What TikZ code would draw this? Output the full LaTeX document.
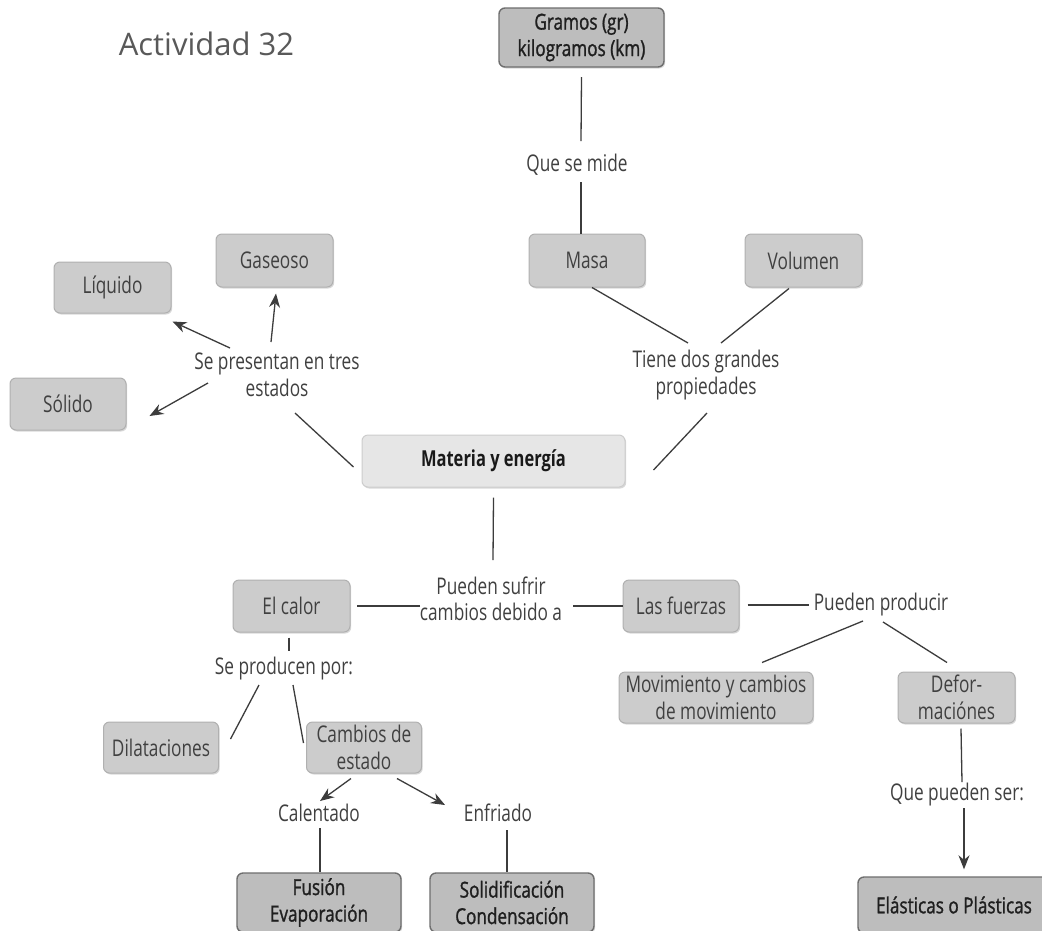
\documentclass[tikz,border=0pt]{standalone}
\usepackage{fontspec}
\setmainfont{Open Sans}[FakeStretch=0.75]
\newfontfamily\titlefont{Open Sans}
\newfontfamily\heavyfont{Open Sans}[FakeStretch=0.78,FakeBold=1.2]
\usetikzlibrary{arrows.meta,calc,shadows}
\definecolor{boxfill}{HTML}{CCCCCC}
\definecolor{boxedge}{HTML}{B0B0B0}
\definecolor{darkfill}{HTML}{BDBDBD}
\definecolor{darkedge}{HTML}{6E6E6E}
\definecolor{litefill}{HTML}{E6E6E6}
\definecolor{liteedge}{HTML}{CDCDCD}
\definecolor{txt}{HTML}{404040}
\definecolor{ln}{HTML}{3C3C3C}
\begin{document}
\begin{tikzpicture}[x=1pt,y=-1pt,
  lbl/.style={text=txt, align=center, font=\fontsize{23}{26.5}\selectfont, inner sep=0pt},
  box/.style={draw=boxedge, fill=boxfill, rounded corners=6pt, line width=1pt, align=center,
    text=txt, font=\fontsize{23}{26.5}\selectfont, inner sep=0pt,
    drop shadow={shadow xshift=1.2pt, shadow yshift=-1.5pt, opacity=0.3}},
  dbox/.style={box, fill=darkfill, draw=darkedge, line width=1.4pt, text=black!88,
    font=\heavyfont\fontsize{22}{26.5}\selectfont},
  lbox/.style={box, fill=litefill, draw=liteedge, text=black!90, font=\fontsize{22}{26.5}\selectfont\bfseries},
  conn/.style={draw=ln, line width=1.3pt},
  arr/.style={conn, -{Stealth[length=14pt,width=11pt]}}
]
\clip (0,0) rectangle (1042,930);
\fill[white] (0,0) rectangle (1042,930);

% title
\node[anchor=base, text=black!65, font=\titlefont\fontsize{31}{36}\selectfont, inner sep=0pt] (title) at (206.5,55) {Actividad 32};

% boxes
\node[dbox, minimum width=165pt, minimum height=59pt] (gramos) at (581.5,37.5) {Gramos (gr)\\kilogramos (km)};
\node[box, minimum width=116pt, minimum height=53pt] (masa) at (587,260.5) {Masa};
\node[box, minimum width=117pt, minimum height=53pt] (volumen) at (803.5,260.5) {Volumen};
\node[lbox, minimum width=263pt, minimum height=52pt] (materia) at (493.5,461) {Materia y energía};
\node[box, minimum width=117pt, minimum height=53pt] (gaseoso) at (274.5,260.5) {Gaseoso};
\node[box, minimum width=117pt, minimum height=51pt] (liquido) at (112.5,287.5) {Líquido};
\node[box, minimum width=116pt, minimum height=52pt] (solido) at (68,404) {Sólido};
\node[box, minimum width=117pt, minimum height=52pt] (calor) at (291.5,606) {El calor};
\node[box, minimum width=116pt, minimum height=52pt] (fuerzas) at (681,606) {Las fuerzas};
\node[box, minimum width=194pt, minimum height=51pt] (movimiento) at (716,697.5) {Movimiento y cambios\\de movimiento};
\node[box, minimum width=117pt, minimum height=51pt] (defor) at (956.5,697.5) {Defor-\\maciónes};
\node[dbox, minimum width=192pt, minimum height=56pt] (elasticas) at (954,905) {Elásticas o Plásticas};
\node[box, minimum width=115pt, minimum height=51pt] (dilataciones) at (161,747.5) {Dilataciones};
\node[box, minimum width=115pt, minimum height=51pt] (cambios) at (364,747.5) {Cambios de\\estado};
\node[dbox, minimum width=164pt, minimum height=59pt] (fusion) at (319,902.5) {Fusión\\Evaporación};
\node[dbox, minimum width=164pt, minimum height=59pt] (solidif) at (512,902.5) {Solidificación\\Condensación};

% labels
\node[lbl] (qsm) at (577,165) {Que se mide};
\node[lbl] (tiene) at (706,375) {Tiene dos grandes\\propiedades};
\node[lbl] (sepres) at (277,375) {Se presentan en tres\\estados};
\node[lbl] (pueden) at (491,599) {Pueden sufrir\\cambios debido a};
\node[lbl] (producir) at (881,605) {Pueden producir};
\node[lbl] (quepueden) at (957,795) {Que pueden ser:};
\node[lbl] (seprod) at (284,669) {Se producen por:};
\node[lbl] (calentado) at (319,813) {Calentado};
\node[lbl] (enfriado) at (498,813) {Enfriado};

% connectors
\draw[conn] ($(gramos.center)+(0,39.5)$) -- ($(qsm)+(4,-24)$);
\draw[conn] ($(qsm)+(4,17)$) -- ($(masa.north)+(-6,0)$);
\draw[conn] ($(masa.south)+(5,0)$) -- ($(tiene)+(-18,-32)$);
\draw[conn] ($(volumen.south)+(-14.5,1)$) -- ($(tiene)+(15,-32)$);
\draw[conn] ($(tiene)+(1,38)$) -- ($(materia.east)+(28,9)$);
\draw[conn] ($(sepres)+(18,38)$) -- ($(materia.west)+(-8,6)$);
\draw[arr] ($(sepres)+(-47,-27)$) -- ($(liquido.south east)+(1,8)$);
\draw[arr] ($(sepres)+(-6,-33)$) -- ($(gaseoso.south)+(1.5,6)$);
\draw[arr] ($(sepres)+(-69,8)$) -- ($(solido.east)+(23,12)$);
\draw[conn] ($(materia.south)+(0,10)$) -- ($(pueden)+(2,-39)$);
\draw[conn] ($(pueden)+(-71,7)$) -- ($(calor.east)+(6,0)$);
\draw[conn] ($(pueden)+(82,7)$) -- (fuerzas.west);
\draw[conn] ($(fuerzas.east)+(8,-1)$) -- ($(producir)+(-72,0)$);
\draw[conn] ($(producir)+(-18,16)$) -- ($(movimiento.north)+(46,-9)$);
\draw[conn] ($(producir)+(2,17)$) -- ($(defor.north)+(-9.5,-9)$);
\draw[conn] ($(defor.south)+(4.5,5)$) -- ($(quepueden)+(5,-13)$);
\draw[arr] ($(quepueden)+(7,13)$) -- ($(elasticas.north)+(10,-7)$);
\draw[conn] ($(calor.south)+(-2.5,5)$) -- ($(seprod)+(5,-18)$);
\draw[conn] ($(seprod)+(-25,16)$) -- ($(dilataciones.east)+(11.5,-8.5)$);
\draw[conn] ($(seprod)+(9,16)$) -- ($(cambios.west)+(-2.5,-4.5)$);
\draw[arr] ($(cambios.south)+(-13,5)$) -- ($(calentado)+(1,-12)$);
\draw[arr] ($(cambios.south)+(33,5)$) -- ($(enfriado)+(-53,-8)$);
\draw[conn] ($(calentado)+(1,15)$) -- ($(fusion.north)+(1,0)$);
\draw[conn] ($(enfriado)+(9,17)$) -- ($(solidif.north)+(-5,0)$);
\end{tikzpicture}
\end{document}
